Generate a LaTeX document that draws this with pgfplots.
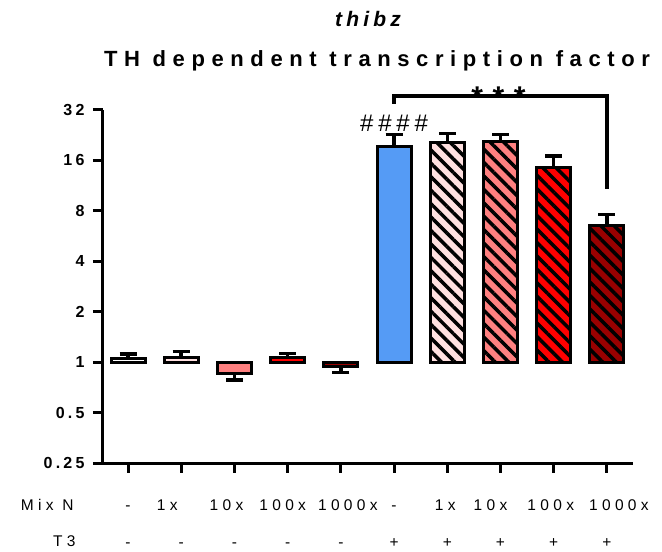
\documentclass[border=0pt]{standalone}
\usepackage{fontspec}
\setmainfont{Liberation Sans}
\newfontfamily\lsp[LetterSpace=20]{Liberation Sans}
\newfontfamily\lspx[LetterSpace=28]{Liberation Sans}
\newfontfamily\lspt[LetterSpace=32]{Liberation Sans}
\newfontfamily\lsph[LetterSpace=30]{Liberation Sans}
\usepackage{pgfplots}
\pgfplotsset{compat=1.18}
\usetikzlibrary{patterns.meta}

\definecolor{tblue}{RGB}{85,155,245}
\definecolor{lpink}{RGB}{255,224,224}
\definecolor{salmon}{RGB}{255,128,128}
\definecolor{tred}{RGB}{255,0,0}
\definecolor{dred}{RGB}{153,0,0}

\tikzset{hatch/.style={postaction={pattern={Lines[angle=-45,distance=9.5pt,line width=3.5pt]},pattern color=black}}}
% label centred #1 away from its tick
\newcommand{\sh}[2]{\makebox[0pt]{\hspace*{#1}\hspace*{#1}\makebox[0pt]{#2}}}

\begin{document}
\begin{tikzpicture}
\useasboundingbox (-103pt,-89pt) rectangle (559pt,463pt);
\begin{axis}[
  at={(0pt,0pt)}, anchor=south west,
  scale only axis, width=530pt, height=353pt,
  ymode=log, log basis y=2,
  ymin=0.25, ymax=32,
  xmin=-0.47, xmax=9.49,
  axis x line*=bottom, axis y line*=left,
  axis line style={line width=3pt,-,black},
  every tick/.style={black,line width=3pt},
  tick align=outside, major tick length=10pt, minor tick length=0pt,
  ytick={0.25,0.5,1,2,4,8,16,32},
  yticklabels={0.25,0.5,1,2,4,8,16,32},
  yticklabel style={font=\lsp\bfseries\fontsize{16}{18}\selectfont, xshift=-5pt},
  xtick={0,...,9},
  xticklabels={-,\sh{-14pt}{1x},\sh{-8pt}{10x},\sh{-5pt}{100x},\sh{7pt}{1000x},
               -,\sh{-2pt}{1x},\sh{-10pt}{10x},\sh{-3pt}{100x},\sh{12pt}{1000x}},
  xticklabel style={font=\lspx\fontsize{15.5}{18}\selectfont, anchor=base, yshift=-38pt},
  extra x ticks={0,...,9},
  extra x tick labels={-,-,-,-,-,+,+,+,+,+},
  extra x tick style={major tick length=0pt, xticklabel style={yshift=-46pt}},
  ybar, bar width=34pt,
  clip=false,
  error bars/error bar style={line width=3.5pt,black},
  error bars/error mark options={rotate=90,line width=3.5pt,mark size=8.5pt,black},
]
\addplot[ybar, bar shift=0pt, fill=white, draw=black, line width=3pt,
  error bars/.cd, y dir=plus, y explicit] coordinates {(0,1.05) +- (0,0.07)};
\addplot[ybar, bar shift=0pt, fill=lpink, draw=black, line width=3pt,
  error bars/.cd, y dir=plus, y explicit] coordinates {(1,1.07) +- (0,0.09)};
\addplot[ybar, bar shift=0pt, fill=salmon, draw=black, line width=3pt,
  error bars/.cd, y dir=minus, y explicit] coordinates {(2,0.86) +- (0,0.08)};
\addplot[ybar, bar shift=0pt, fill=tred, draw=black, line width=3pt,
  error bars/.cd, y dir=plus, y explicit] coordinates {(3,1.06) +- (0,0.07)};
\addplot[ybar, bar shift=0pt, fill=dred, draw=black, line width=3pt,
  error bars/.cd, y dir=minus, y explicit] coordinates {(4,0.94) +- (0,0.07)};
\addplot[ybar, bar shift=0pt, fill=tblue, draw=black, line width=3pt,
  error bars/.cd, y dir=plus, y explicit] coordinates {(5,19.4) +- (0,3.4)};
\addplot[ybar, bar shift=0pt, fill=lpink, draw=black, line width=3pt, hatch,
  error bars/.cd, y dir=plus, y explicit] coordinates {(6,20.5) +- (0,2.6)};
\addplot[ybar, bar shift=0pt, fill=salmon, draw=black, line width=3pt, hatch,
  error bars/.cd, y dir=plus, y explicit] coordinates {(7,20.75) +- (0,2.15)};
\addplot[ybar, bar shift=0pt, fill=tred, draw=black, line width=3pt, hatch,
  error bars/.cd, y dir=plus, y explicit] coordinates {(8,14.5) +- (0,2.5)};
\addplot[ybar, bar shift=0pt, fill=dred, draw=black, line width=3pt, hatch,
  error bars/.cd, y dir=plus, y explicit] coordinates {(9,6.53) +- (0,1.1)};

\draw[line width=4pt] (axis cs:5,34.8) |- (axis cs:9,38.8) -- (axis cs:9,10.8);
\node[font=\lspt\bfseries\fontsize{30}{32}\selectfont, anchor=base] at (axis cs:7,38.8) [xshift=-2pt, yshift=-12pt] {***};
\node[font=\lsp\fontsize{24}{26}\selectfont, anchor=base] at (axis cs:5,27) [yshift=-9pt] {\#\#\#\#};

\node[font=\lspx\fontsize{15.5}{18}\selectfont, anchor=base east] at (rel axis cs:0,0) [xshift=-26pt, yshift=-47pt] {Mix N};
\node[font=\lspx\fontsize{15.5}{18}\selectfont, anchor=base east] at (rel axis cs:0,0) [xshift=-24pt, yshift=-83pt] {T3};
\node[font=\lsp\bfseries\itshape\fontsize{21}{24}\selectfont, anchor=base] at (rel axis cs:0.5,1) [yshift=83pt] {thibz};
\node[font=\lsph\bfseries\fontsize{22}{24}\selectfont, anchor=base] at (rel axis cs:0.5,1) [xshift=9pt, yshift=43pt] {TH dependent transcription factor};
\end{axis}
\end{tikzpicture}
\end{document}
